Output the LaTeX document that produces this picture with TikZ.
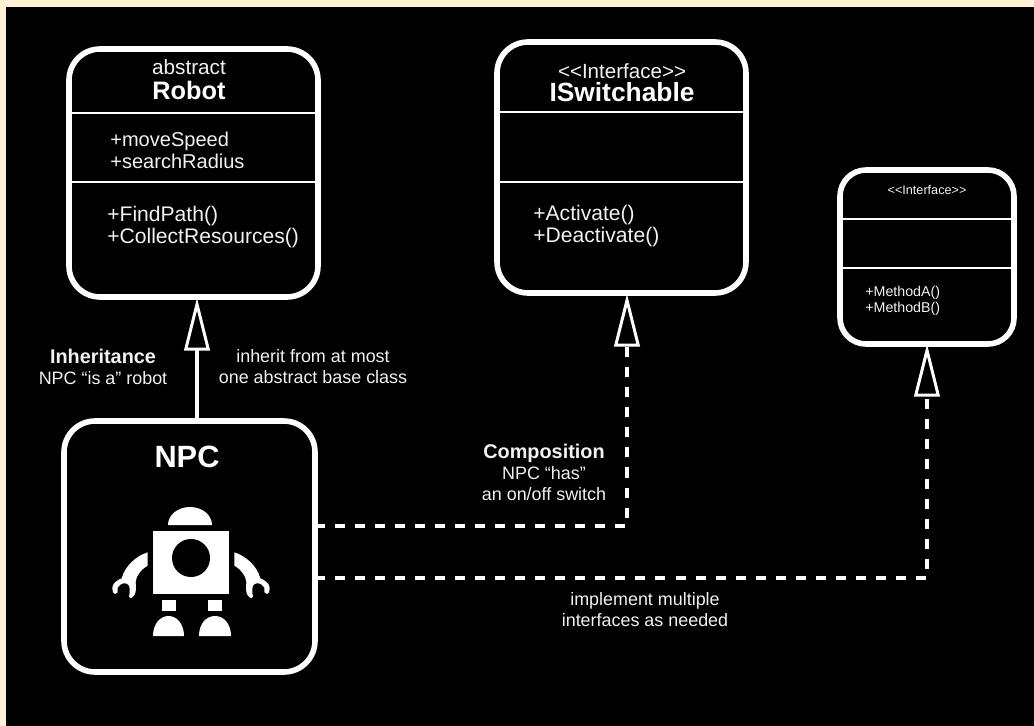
\documentclass[tikz,border=0pt]{standalone}
\usepackage{fontspec}
\setmainfont{Liberation Sans}
\usetikzlibrary{calc, arrows.meta}

\definecolor{cream}{HTML}{FFF2D4}
\definecolor{softwhite}{HTML}{F2F2F2}

\tikzset{
  classbox/.style={draw=white, line width=3.2pt, rounded corners=0.62cm, inner sep=0pt, outer sep=0pt},
  divider/.style={draw=white, line width=1.5pt},
  hollowtip/.style={-{Triangle[open, length=30pt, width=14.5pt, line width=1.7pt]}},
  inheritline/.style={draw=white, line width=2pt, hollowtip},
  realizeline/.style={draw=white, line width=2.8pt, dash pattern=on 5.7pt off 5.7pt, hollowtip},
  label/.style={text=softwhite, align=center, font=\fontsize{10.2}{12}\selectfont},
  member/.style={text=softwhite, align=left, anchor=west, inner sep=0pt, font=\fontsize{11.4}{12.6}\selectfont},
  method/.style={member, font=\fontsize{12}{12.6}\selectfont},
  smallmember/.style={text=softwhite, align=left, anchor=west, inner sep=0pt, font=\fontsize{8.1}{9.2}\selectfont},
}

\newcommand{\boldlabel}[1]{{\fontsize{11.3}{12}\selectfont\bfseries #1}}

\begin{document}
\begin{tikzpicture}[x=0.02cm, y=-0.02cm]
  \useasboundingbox (0,0) rectangle (1034,726);
  \fill[cream] (0,0) rectangle (1034,726);
  \fill[black] (6,7) rectangle (1034,726);

  % Class boxes
  \node[classbox, minimum width=4.98cm, minimum height=4.96cm] (robot) at (193.5,173) {};
  \node[classbox, minimum width=4.98cm, minimum height=5.02cm] (iswitchable) at (621.5,167.5) {};
  \node[classbox, minimum width=3.48cm, minimum height=3.48cm, rounded corners=0.52cm] (iface) at (927,257) {};
  \node[classbox, minimum width=5.02cm, minimum height=5.02cm] (npc) at (189.5,546.5) {};

  % Compartments
  \draw[divider] ($(robot.north west)+(0,64)$) -- ($(robot.north east)+(0,64)$);
  \draw[divider] ($(robot.north west)+(0,133)$) -- ($(robot.north east)+(0,133)$);
  \draw[divider] ($(iswitchable.north west)+(0,70)$) -- ($(iswitchable.north east)+(0,70)$);
  \draw[divider] ($(iswitchable.north west)+(0,140)$) -- ($(iswitchable.north east)+(0,140)$);
  \draw[divider] ($(iface.north west)+(0,49)$) -- ($(iface.north east)+(0,49)$);
  \draw[divider] ($(iface.north west)+(0,98)$) -- ($(iface.north east)+(0,98)$);

  % Class texts
  \node[text=softwhite, font=\fontsize{11.8}{13}\selectfont] (robotkind) at (189,67) {abstract};
  \node[text=white, font=\fontsize{14.4}{15}\selectfont\bfseries] (robottitle) at (189,90) {Robot};
  \node[member] (robotfields) at (110,150.5) {+moveSpeed\\+searchRadius};
  \node[method] (robotmethods) at (107,227) {+FindPath()\\+CollectResources()};
  \node[text=softwhite, font=\fontsize{11.7}{12}\selectfont, inner sep=0pt] (switchkind) at (622,71) {<{}<Interface>{}>};
  \node[text=white, font=\fontsize{15}{15}\selectfont\bfseries, inner sep=0pt] (switchtitle) at (622,92.5) {ISwitchable};
  \node[method] (switchmethods) at (533,226) {+Activate()\\+Deactivate()};
  \node[text=softwhite, font=\fontsize{7.2}{8}\selectfont] (ifacetitle) at (927,190) {<{}<Interface>{}>};
  \node[smallmember] (ifacemethods) at (865,301) {+MethodA()\\+MethodB()};
  \node[text=white, font=\fontsize{17.5}{18}\selectfont\bfseries] (npctitle) at (187,457) {NPC};

  % Connector labels
  \node[label] (inheritlabel) at (103,367) {\boldlabel{Inheritance}\\NPC “is a” robot};
  \node[label] (basenote) at (313,367) {inherit from at most\\one abstract base class};
  \node[label] (composelabel) at (544,472) {\boldlabel{Composition}\\NPC “has”\\an on/off switch};
  \node[label] (multinote) at (645,610) {implement multiple\\interfaces as needed};

  % Arrow ends
  \coordinate (robottip) at (197,298);
  \coordinate (switchtip) at (627,294);
  \coordinate (ifacetip) at (927,344);

  % Connectors
  \draw[inheritline] (robottip |- npc.north) -- (robottip);
  \draw[realizeline] ($(npc.east)+(0,-20.5)$) -| (switchtip);
  \draw[realizeline] ($(npc.east)+(0,31.5)$) -| (ifacetip);

  % Robot figure
  \fill[white] (168,525) arc[start angle=180, end angle=360, x radius=22, y radius=18] -- cycle;
  \fill[white] (153,531) rectangle (229,594);
  \fill[black] (191,558) circle (19);
  \fill[white] (162,600) rectangle (176,611);
  \fill[white] (208,600) rectangle (222,611);
  \fill[white] (153,636) .. controls (153,624) and (160,616) .. (168.5,616) .. controls (177,616) and (184,624) .. (184,636) -- cycle;
  \fill[white] (199,636) .. controls (199,624) and (206,616) .. (215,616) .. controls (224,616) and (231,624) .. (231,636) -- cycle;
  \foreach \flip in {1,-1} {
    \begin{scope}[shift={(191,0)}, xscale=\flip]
      \fill[white] (-43.3,552.3) .. controls (-55,556) and (-66,566) .. (-69.3,578.3)
        .. controls (-74,580) and (-79,584) .. (-78.7,588.3)
        .. controls (-78.5,592) and (-77,594.5) .. (-76,594)
        -- (-73.3,592.3) -- (-73.3,587.7)
        .. controls (-71,584.5) and (-69,583.3) .. (-67.7,583.3)
        .. controls (-64,583) and (-62,585) .. (-62,585.7)
        .. controls (-61,588) and (-61,593) .. (-62,596.7)
        -- (-60,598.3)
        .. controls (-57,596) and (-55.3,594) .. (-55.3,591.7)
        .. controls (-55,587) and (-55.3,584) .. (-55.3,581.7)
        .. controls (-55,577) and (-50,569) .. (-43.3,565.7) -- cycle;
    \end{scope}
  }
\end{tikzpicture}
\end{document}
